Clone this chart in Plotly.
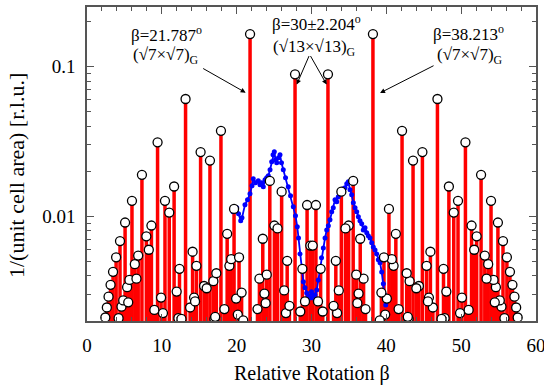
import plotly.graph_objects as go

# Commensurate rotation angles (below 30 deg) and their partners (above 30 deg)
beta_low = [2.45, 2.65, 2.88, 3.15, 3.48, 3.89, 4.22, 4.41, 4.61, 4.84,
            5.09, 5.36, 5.51, 5.67, 6.01, 6.39, 6.61, 6.84, 7.34,
            7.93, 8.26, 8.61, 9.00, 9.43, 9.90, 10.15, 10.42, 10.99, 11.64,
            11.98, 12.21, 12.36, 12.62, 13.17, 13.78, 14.11, 14.31, 14.44, 14.62,
            15.18, 15.65, 15.99, 16.43, 16.89, 17.03, 17.13, 17.28, 17.90, 18.36,
            18.73, 19.03, 19.27, 19.65, 19.93, 20.15, 20.32, 20.66, 20.88, 21.79,
            22.78, 23.04, 23.49, 23.71, 23.87, 24.02, 24.43, 25.04, 25.46, 26.01,
            26.35, 26.58, 26.75, 27.05, 27.80, 28.50, 28.78, 29.13, 29.41, 29.84]
beta_high = [57.55, 57.35, 57.12, 56.85, 56.52, 56.11, 55.78, 55.59, 55.39, 55.16,
             54.91, 54.64, 54.49, 54.33, 53.99, 53.61, 53.39, 53.16, 52.66,
             52.07, 51.74, 51.39, 51.00, 50.57, 50.10, 49.85, 49.58, 49.01, 48.36,
             48.02, 47.79, 47.64, 47.38, 46.83, 46.22, 45.89, 45.69, 45.56, 45.38,
             44.82, 44.35, 44.01, 43.57, 43.11, 42.97, 42.87, 42.72, 42.10, 41.64,
             41.27, 40.97, 40.73, 40.35, 40.07, 39.85, 39.68, 39.34, 39.12, 38.21,
             37.22, 36.96, 36.51, 36.29, 36.13, 35.98, 35.57, 34.96, 34.54, 33.99,
             33.65, 33.42, 33.25, 32.95, 32.20, 31.50, 31.22, 30.87, 30.59, 30.16]
peak_value = [0.002111, 0.002462, 0.002909, 0.003488, 0.004261, 0.005321, 0.002088, 0.006833, 0.002494, 0.002743,
              0.009092, 0.003366, 0.002667, 0.003761, 0.01269, 0.004791, 0.003836, 0.005472, 0.01893,
              0.007355, 0.005983, 0.008682, 0.002371, 0.03121, 0.002865, 0.002260, 0.01269, 0.01059, 0.01582,
              0.003146, 0.002088, 0.004458, 0.002066, 0.06077, 0.002462, 0.005802, 0.002865, 0.002704, 0.004675,
              0.02685, 0.003426, 0.003309, 0.02357, 0.003689, 0.002066, 0.002134, 0.004169, 0.03725, 0.002401,
              0.007647, 0.004675, 0.005178, 0.01121, 0.002823, 0.002208, 0.005321, 0.003096, 0.002022, 0.1650,
              0.002401, 0.003836, 0.007084, 0.003047, 0.002630, 0.004080, 0.01723, 0.008682, 0.008307, 0.01462,
              0.003199, 0.002260, 0.005042, 0.002527, 0.08882, 0.002314, 0.004458, 0.002704, 0.01190, 0.006380]

# Measured (blue) curve
exp_beta = [19.51, 20.01, 20.25, 20.54, 20.71, 21.11, 21.45, 21.78, 22.05, 22.22,
            22.52, 22.89, 23.12, 23.35, 23.56, 23.79, 24.01, 24.23, 24.46, 24.68,
            24.86, 25.03, 25.19, 25.35, 25.59, 25.79, 25.99, 26.23, 26.53, 26.90,
            27.20, 27.57, 27.86, 28.10, 28.26, 28.46, 28.69, 28.91, 29.13, 29.36,
            29.57, 29.80, 30.00, 30.24, 30.47, 30.70, 30.91, 31.14, 31.34, 31.58,
            31.81, 32.03, 32.25, 32.47, 32.70, 32.91, 33.14, 33.37, 33.58, 33.81,
            34.04, 34.25, 34.48, 34.71, 34.92, 35.15, 35.37, 35.59, 35.82, 36.04,
            36.26, 36.48, 36.71, 36.92, 37.15, 37.38, 37.59, 37.82, 38.05, 38.26,
            38.49, 38.71, 38.93, 39.16, 39.38, 39.60, 39.76, 39.92]
exp_value = [0.01072, 0.0114, 0.01039, 0.00933, 0.00977, 0.01194, 0.01289, 0.01414, 0.0160, 0.01782,
             0.01675, 0.01728, 0.01625, 0.01675, 0.01575, 0.01754, 0.01809, 0.01866, 0.02047, 0.02315,
             0.02578, 0.02699, 0.02388, 0.0228, 0.0246, 0.02578, 0.0228, 0.02047, 0.01809, 0.01575,
             0.01371, 0.01157, 0.01008, 0.00851, 0.00718, 0.00561, 0.00453, 0.00365, 0.00333, 0.00308,
             0.00294, 0.00285, 0.00313, 0.00285, 0.00299, 0.00322, 0.00376, 0.00453, 0.00528, 0.00615,
             0.00718, 0.00812, 0.00864, 0.00948, 0.01072, 0.0114, 0.01289, 0.0125, 0.0135, 0.01458,
             0.01414, 0.01527, 0.01552, 0.0165, 0.01701, 0.01503, 0.01393, 0.01231, 0.0114, 0.01072,
             0.00992, 0.00933, 0.00891, 0.00812, 0.00838, 0.00776, 0.00741, 0.00718, 0.00665, 0.00625,
             0.00597, 0.00561, 0.00512, 0.00489, 0.00425, 0.00354, 0.00299, 0.00256]

x_tick_values = [0, 10, 20, 30, 40, 50, 60]
x_tick_labels = ["0", "10", "20", "30", "40", "50", "60"]

all_beta = beta_low + beta_high
all_val = peak_value + peak_value

stem_x, stem_y = [], []
for b, v in zip(all_beta, all_val):
    stem_x += [b, b, None]
    stem_y += [0.0015, v, None]

SERIF = "Liberation Serif, Times New Roman, Times, serif"

fig = go.Figure()
fig.add_trace(go.Scatter(x=stem_x, y=stem_y, mode="lines",
                         line=dict(color="#ff0000", width=3.5), hoverinfo="skip"))
fig.add_trace(go.Scatter(x=exp_beta, y=exp_value, mode="lines+markers",
                         line=dict(color="#0000ff", width=1.8),
                         marker=dict(size=5, color="#0000ff")))
fig.add_trace(go.Scatter(x=all_beta, y=all_val, mode="markers",
                         marker=dict(symbol="circle", size=9, color="white",
                                     line=dict(color="black", width=1.3))))

axcol = "#555555"
fig.update_xaxes(range=[0, 60], tickmode="array", tickvals=x_tick_values, ticktext=x_tick_labels,
                 ticks="inside", ticklen=7, tickwidth=1.2, tickcolor=axcol,
                 minor=dict(tickmode="linear", tick0=0, dtick=2, ticks="inside", ticklen=4,
                            tickcolor=axcol, tickwidth=1),
                 showline=True, linecolor=axcol, linewidth=1.5, mirror="ticks",
                 showgrid=False, zeroline=False, ticklabelstandoff=6,
                 ticklabeloverflow="allow", automargin=False,
                 tickfont=dict(family=SERIF, size=19, color="black"))
fig.update_yaxes(type="log", range=[-2.699, -0.602], dtick=1, ticks="inside", ticklen=7,
                 tickwidth=1.2, tickcolor=axcol,
                 minor=dict(dtick="D1", ticks="inside", ticklen=4, tickcolor=axcol, tickwidth=1),
                 showline=True, linecolor=axcol, linewidth=1.5, mirror="ticks",
                 showgrid=False, zeroline=False, ticklabelstandoff=6, automargin=False,
                 tickfont=dict(family=SERIF, size=19, color="black"))

ann_font = dict(family=SERIF, size=17, color="black")
texts = [
    (0.177, 0.914, "β=21.787<sup>o</sup>"),
    (0.176, 0.844, "(√7×√7)<sub>G</sub>"),
    (0.512, 0.949, "β=30±2.204<sup>o</sup>"),
    (0.506, 0.869, "(√13×√13)<sub>G</sub>"),
    (0.849, 0.917, "β=38.213<sup>o</sup>"),
    (0.853, 0.844, "(√7×√7)<sub>G</sub>"),
]
annotations = []
for x, y, t in texts:
    annotations.append(dict(x=x, y=y, xref="paper", yref="paper", text=t, showarrow=False,
                            font=ann_font, xanchor="center", yanchor="middle"))
arrows = [
    (21.2, -1.174, -44, -25),
    (28.02, -1.120, 13, -30),
    (32.03, -1.120, -17, -30),
    (39.16, -1.176, 55, -28),
]
for x, y, ax, ay in arrows:
    annotations.append(dict(x=x, y=y, xref="x", yref="y", text="", showarrow=True,
                            ax=ax, ay=ay, arrowhead=2, arrowsize=1, arrowwidth=1,
                            arrowcolor="black"))
annotations.append(dict(x=0.5, y=(321 - 373) / 314, xref="paper", yref="paper",
                        text="Relative Rotation β", showarrow=False, yanchor="middle",
                        font=dict(family=SERIF, size=20, color="black")))
annotations.append(dict(x=(16 - 87) / 449, y=(321 - 176) / 314, xref="paper", yref="paper",
                        text="1/(unit cell area) [r.l.u.]", textangle=-90, showarrow=False,
                        font=dict(family=SERIF, size=22, color="black"),
                        xanchor="center", yanchor="middle"))

fig.update_layout(annotations=annotations,
                  width=544, height=389, margin=dict(l=87, r=8, t=7, b=68, autoexpand=False),
                  paper_bgcolor="white", plot_bgcolor="white", showlegend=False,
                  hovermode=False,
                  font=dict(family=SERIF, size=19, color="black"))
fig.write_html("out.html")
